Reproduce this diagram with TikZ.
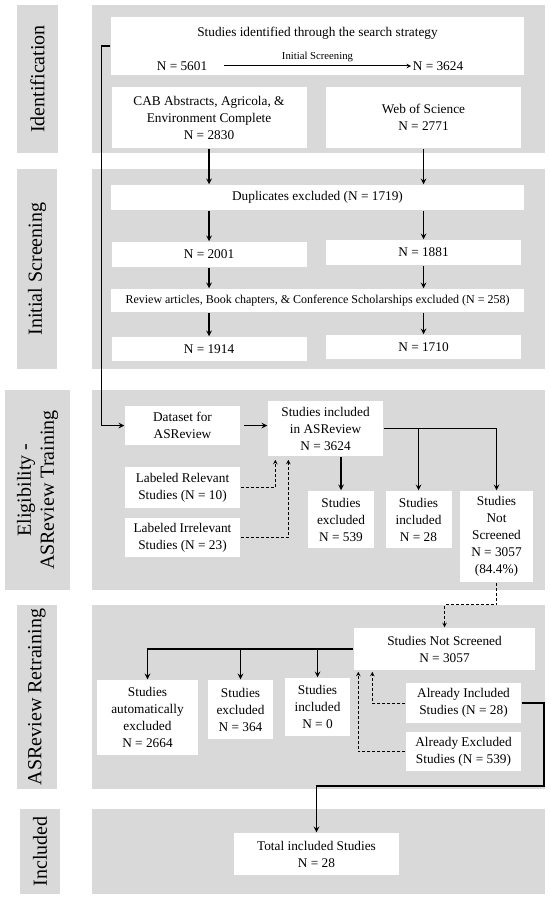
\documentclass[tikz,border=0pt]{standalone}
\usepackage{fontspec}
\setmainfont{Liberation Serif}
\definecolor{panelgray}{HTML}{D9D9D9}

\begin{document}
\begin{tikzpicture}[-,>=stealth,line width=1.5pt,x=1pt,y=-1pt,
    white box/.style={fill=white,align=center,inner sep=1pt,font=\fontsize{13.3}{17}\selectfont},
    full box/.style={white box,minimum width=413pt},
    half box/.style={white box,minimum width=195pt},
    side box/.style={white box,minimum width=115pt},
    count box/.style={white box,minimum width=66pt},
    side label/.style={fill=panelgray,rotate=90,align=center,inner sep=0pt,font=\fontsize{20}{23}\selectfont},
    small text/.style={font=\fontsize{10.7}{12}\selectfont},
    dashed link/.style={line width=1pt,dash pattern=on 3pt off 2pt}]
    \useasboundingbox (0,0) rectangle (550,899);

    % stage panels
    \fill[panelgray] (92,5) rectangle (545,153);
    \fill[panelgray] (92,169) rectangle (545,369);
    \fill[panelgray] (92,390) rectangle (545,590);
    \fill[panelgray] (92,605) rectangle (545,789);
    \fill[panelgray] (92,809) rectangle (545,894);

    \node[side label,minimum width=148pt,minimum height=41pt] (ident) at (37.5,79) {Identification};
    \node[side label,minimum width=200pt,minimum height=40pt] (initial) at (37,269) {Initial Screening};
    \node[side label,minimum width=200pt,minimum height=65pt] (elig) at (37.5,490) {Eligibility -\\ASReview Training};
    \node[side label,minimum width=184pt,minimum height=40pt] (retrain) at (37,697) {ASReview Retraining};
    \node[side label,minimum width=85pt,minimum height=40pt] (incl) at (40,851.5) {Included};

    % identification
    \node[full box,minimum height=58pt] (search) at (317.5,46) {};
    \node[white box] (searchtitle) at (317.5,33) {Studies identified through the search strategy};
    \node[white box] (n5601) at (182,66) {N = 5601};
    \node[white box] (n3624) at (438,66) {N = 3624};
    \node[half box,minimum height=61pt] (cab) at (209,117.5) {CAB Abstracts, Agricola, \&\\Environment Complete\\N = 2830};
    \node[half box,minimum height=61pt] (wos) at (423.5,117.5) {Web of Science\\N = 2771};

    % initial screening
    \node[full box,minimum height=25pt] (dup) at (317.5,197.5) {Duplicates excluded (N = 1719)};
    \node[half box,minimum height=25pt] (n2001) at (209,254.5) {N = 2001};
    \node[half box,minimum height=25pt] (n1881) at (423.5,252.5) {N = 1881};
    \node[full box,minimum height=23pt,font=\fontsize{12}{14}\selectfont] (review) at (317.5,300.5) {Review articles, Book chapters, \& Conference Scholarships excluded (N = 258)};
    \node[half box,minimum height=24pt] (n1914) at (209,349) {N = 1914};
    \node[half box,minimum height=24pt] (n1710) at (423.5,347) {N = 1710};

    % eligibility
    \node[side box,minimum height=39pt] (dataset) at (182.5,425.5) {Dataset for\\ASReview};
    \node[side box,minimum height=55pt] (inasr) at (325.5,428.5) {Studies included\\in ASReview\\N = 3624};
    \node[side box,minimum height=41pt] (relevant) at (182.5,487.5) {Labeled Relevant\\Studies (N = 10)};
    \node[side box,minimum height=39pt] (irrelevant) at (182.5,537.5) {Labeled Irrelevant\\Studies (N = 23)};
    \node[count box,minimum height=57pt] (excl539) at (341,519.5) {Studies\\excluded\\N = 539};
    \node[count box,minimum height=57pt] (incl28) at (418.5,519.5) {Studies\\included\\N = 28};
    \node[white box,minimum width=73pt,minimum height=91pt] (notscr) at (496.5,536.5) {Studies\\Not\\Screened\\N = 3057\\(84.4\%)};

    % retraining
    \node[white box,minimum width=181pt,minimum height=42pt] (nsr) at (444.5,649) {Studies Not Screened\\N = 3057};
    \node[white box,minimum width=101pt,minimum height=75pt] (auto) at (147.5,717.5) {Studies\\automatically\\excluded\\N = 2664};
    \node[count box,minimum width=65pt,minimum height=59pt] (excl364) at (240.5,709.5) {Studies\\excluded\\N = 364};
    \node[count box,minimum width=65pt,minimum height=58pt] (incl0) at (317.5,707) {Studies\\included\\N = 0};
    \node[side box,minimum height=40pt] (alin) at (463.5,703) {Already Included\\Studies (N = 28)};
    \node[side box,minimum height=39pt] (alex) at (463.5,751.5) {Already Excluded\\Studies (N = 539)};

    % included
    \node[white box,minimum width=165pt,minimum height=42pt] (total) at (316.5,854) {Total included Studies\\N = 28};

    \draw[->,line width=1pt] ([xshift=15pt]n5601.east) -- (n3624.west) node[midway,above,small text] {Initial Screening};

    \path[->]
        (cab.south) edge (cab.south |- dup.north)
        (wos.south) edge (wos.south |- dup.north)
        (n2001 |- dup.south) edge (n2001.north)
        (n1881 |- dup.south) edge (n1881.north)
        (n2001.south) edge (n2001.south |- review.north)
        (n1881.south) edge (n1881.south |- review.north)
        (n1914 |- review.south) edge (n1914.north)
        (n1710 |- review.south) edge (n1710.north)
        (excl539.north |- inasr.south) edge (excl539.north)
        (incl28.north |- inasr.east) edge (incl28.north)
        (excl364.north |- nsr.west) edge (excl364.north)
        (incl0.north |- nsr.west) edge (incl0.north)
        ;

    \draw[->] (search.west) -- ++(-9,0) |- (dataset.west);
    \draw[->] ([xshift=3pt]dataset.east) -- (dataset.east -| inasr.west);
    \draw[->] (inasr.east) -| (notscr.north);
    \draw[->] (nsr.west) -| (auto.north);
    \draw[->] (alin.east) -- ++(22,0) -- ++(0,83) -| (total.north);

    \draw[dashed link,->] (relevant.east) -| ([xshift=8pt,yshift=-3pt]inasr.south west);
    \draw[dashed link,->] (irrelevant.east) -| ([xshift=21pt,yshift=-3pt]inasr.south west);
    \draw[dashed link,->] (notscr.south) -- ++(0,22) -| (nsr.north);
    \draw[dashed link,->] (alin.west) -| ([xshift=19pt,yshift=-1pt]nsr.south west);
    \draw[dashed link,->] (alex.west) -| ([xshift=5pt,yshift=-1pt]nsr.south west);
\end{tikzpicture}
\end{document}
